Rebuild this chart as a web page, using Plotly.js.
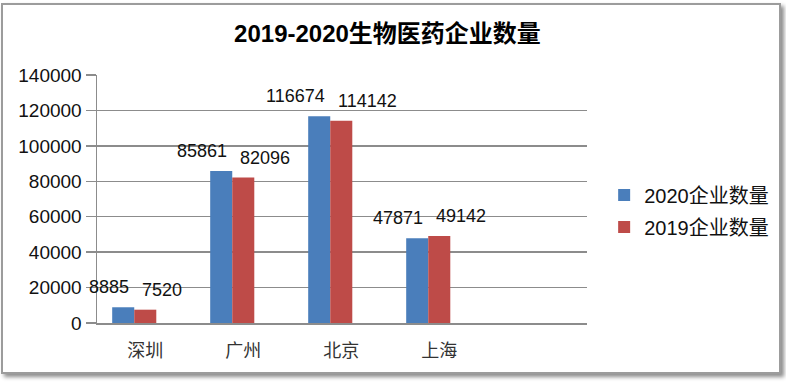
<!DOCTYPE html>
<html>
<head>
<meta charset="utf-8">
<script src="https://cdn.plot.ly/plotly-3.0.1.min.js"></script>
<style>
  html, body { margin: 0; padding: 0; background: #ffffff; }
  #wrap { position: relative; width: 786px; height: 382px; overflow: hidden; }
  #frame { position: absolute; left: 1px; top: 3px; width: 776px; height: 367px;
           border: 2px solid #9c9c9c; background: #ffffff;
           box-shadow: 3px 3px 4px rgba(0,0,0,0.45); }
  #chart { position: absolute; left: 0; top: 0; width: 786px; height: 382px; }
</style>
</head>
<body>
<div id="wrap">
  <div id="frame"></div>
  <div id="chart"></div>
</div>
<script>
const categories = ["深圳", "广州", "北京", "上海"];
const seriesNames = ["2020企业数量", "2019企业数量"];
const values2020 = [8885, 85861, 116674, 47871];
const values2019 = [7520, 82096, 114142, 49142];
const yTicks = [0, 20000, 40000, 60000, 80000, 100000, 120000, 140000];

const FONT = "Liberation Sans, Arial, Noto Sans CJK SC, sans-serif";
const colors = ["#4a7ebb", "#be4b48"];

const traces = [
  { type: "bar", name: seriesNames[0], x: categories, y: values2020, legendgroup: "a",
    marker: { color: colors[0] }, hoverinfo: "none" },
  { type: "bar", name: seriesNames[1], x: categories, y: values2019, legendgroup: "b",
    marker: { color: colors[1] }, hoverinfo: "none" }
];

const annotations = [];
categories.forEach((c, i) => {
  annotations.push({ x: c, y: values2020[i], xref: "x", yref: "y", text: String(values2020[i]),
    showarrow: false, xanchor: "right", xshift: -3, yshift: 20, font: { family: FONT, size: 18, color: "#111" } });
  annotations.push({ x: c, y: values2019[i], xref: "x", yref: "y", text: String(values2019[i]),
    showarrow: false, xanchor: "left", xshift: 6, yshift: 20, font: { family: FONT, size: 18, color: "#111" } });
});

const layout = {
  width: 786, height: 382,
  paper_bgcolor: "rgba(0,0,0,0)", plot_bgcolor: "rgba(0,0,0,0)",
  margin: { l: 97, r: 199, t: 75, b: 59 },
  font: { family: FONT, size: 18, color: "#111" },
  title: { text: "<b>2019-2020生物医药企业数量</b>", x: 0.493, xanchor: "center", y: 0.913, yanchor: "middle",
           font: { family: FONT, size: 24, color: "#000" } },
  bargap: 0.55, bargroupgap: 0,
  xaxis: { type: "category", range: [-0.38, 4.62], showgrid: false, ticks: "",
           showline: true, linecolor: "#8c8c8c", linewidth: 2,
           tickfont: { family: "Noto Sans CJK SC, sans-serif", size: 18, color: "#333" },
           ticklabelshift: 11, ticklabelstandoff: 10, fixedrange: true },
  yaxis: { range: [0, 140000], tickvals: yTicks, ticktext: yTicks.map(String),
           showgrid: true, gridcolor: "#8c8c8c", gridwidth: 1.5,
           showline: true, linecolor: "#8c8c8c", linewidth: 1.5,
           ticks: "outside", ticklen: 10, tickcolor: "#8c8c8c", tickwidth: 1.5,
           zeroline: false, tickfont: { family: FONT, size: 19, color: "#111" }, fixedrange: true },
  legend: { x: 1.035, xanchor: "left", y: 0.452, yanchor: "middle",
            font: { family: FONT, size: 20, color: "#111" },
            bgcolor: "rgba(0,0,0,0)", traceorder: "grouped", tracegroupgap: 3, itemclick: false },
  annotations: annotations,
  showlegend: true
};

Plotly.newPlot("chart", traces, layout, { displayModeBar: false, staticPlot: true });
</script>
</body>
</html>
